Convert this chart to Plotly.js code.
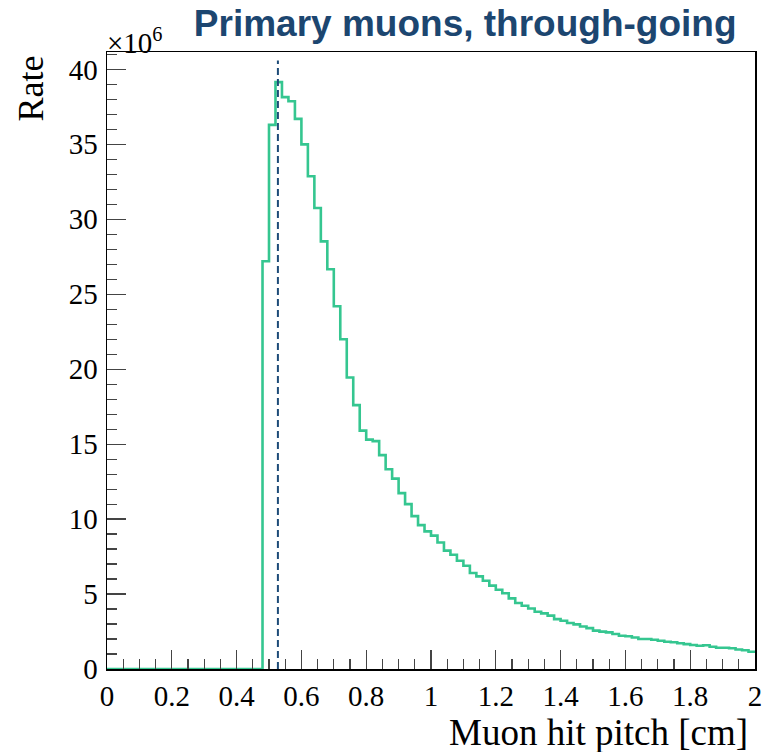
<!DOCTYPE html>
<html>
<head>
<meta charset="utf-8">
<script src="https://cdn.plot.ly/plotly-3.0.1.min.js"></script>
<style>html,body{margin:0;padding:0;background:#fff;}#chart{width:774px;height:752px;}</style>
</head>
<body>
<div id="chart"></div>
<script>
// Histogram: Muon hit pitch, 100 bins from 0 to 2 cm, values in units of 10^6
const binLow = 0;
const binWidth = 0.02;
const rateMillions = [
  0, 0, 0, 0, 0, 0, 0, 0, 0, 0,
  0, 0, 0, 0, 0, 0, 0, 0, 0, 0,
  0, 0, 0, 0, 27.2, 36.3, 39.15, 38.15, 37.87, 36.7,
  35.0, 32.87, 30.75, 28.53, 26.67, 24.2, 22.0, 19.45, 17.6, 15.9,
  15.3, 15.2, 14.27, 13.33, 12.7, 11.73, 11.0, 10.2, 9.6, 9.18,
  8.9, 8.44, 7.9, 7.62, 7.22, 6.89, 6.4, 6.18, 5.89, 5.56,
  5.29, 5.05, 4.71, 4.4, 4.22, 4.04, 3.82, 3.71, 3.56, 3.33,
  3.22, 3.07, 2.98, 2.84, 2.73, 2.56, 2.49, 2.44, 2.33, 2.22,
  2.18, 2.1, 2.0, 2.0, 1.95, 1.88, 1.82, 1.78, 1.72, 1.66,
  1.6, 1.55, 1.58, 1.48, 1.42, 1.42, 1.38, 1.3, 1.25, 1.15
];
// Reference (most probable) pitch marker
const markerX = [0.5275, 0.5275];
const markerY = [0, 40.6];

const xTickVals = [0, 0.2, 0.4, 0.6, 0.8, 1, 1.2, 1.4, 1.6, 1.8, 2];
const xTickText = ["0", "0.2", "0.4", "0.6", "0.8", "1", "1.2", "1.4", "1.6", "1.8", "2"];
const yTickVals = [0, 5, 10, 15, 20, 25, 30, 35, 40];
const yTickText = ["0", "5", "10", "15", "20", "25", "30", "35", "40"];

const titleText = "Primary muons, through-going";
const xTitle = "Muon hit pitch [cm]";
const yTitle = "Rate";
const yExponent = "×10<sup>6</sup>";

// step trace: left edges + final right edge
const edges = [];
const stepY = [];
for (let i = 0; i < rateMillions.length; i++) {
  edges.push(+(binLow + i * binWidth).toFixed(4));
  stepY.push(rateMillions[i]);
}
edges.push(+(binLow + rateMillions.length * binWidth).toFixed(4));
stepY.push(rateMillions[rateMillions.length - 1]);

const serif = "Liberation Serif, Times New Roman, serif";

const traces = [
  {
    x: edges, y: stepY, type: "scatter", mode: "lines",
    line: {shape: "hv", color: "#35c690", width: 2.6},
    hoverinfo: "skip", showlegend: false, cliponaxis: true
  },
  {
    x: markerX, y: markerY, type: "scatter", mode: "lines",
    line: {color: "#1d4b78", width: 2, dash: "7px,4px"},
    hoverinfo: "skip", showlegend: false
  }
];

const layout = {
  width: 774, height: 752,
  margin: {l: 106.5, r: 18.5, t: 52, b: 83, pad: 0},
  paper_bgcolor: "#ffffff", plot_bgcolor: "#ffffff",
  showlegend: false,
  title: {
    text: "<b>" + titleText + "</b>",
    font: {family: "Liberation Sans, Arial, sans-serif", size: 37, color: "#1c4670"},
    xref: "paper", x: 0.9715, xanchor: "right",
    yref: "container", y: 0.970, yanchor: "middle"
  },
  xaxis: {
    range: [0, 2], showgrid: false, zeroline: false,
    showline: true, linecolor: "#000", linewidth: 1.5, mirror: true,
    ticks: "inside", ticklen: 19, tickwidth: 1.2, tickcolor: "#444",
    tickvals: xTickVals, ticktext: xTickText,
    tickfont: {family: serif, size: 29, color: "#000"},
    ticklabelstandoff: 1,
    minor: {dtick: 0.05, ticks: "inside", ticklen: 10, tickwidth: 1.2, tickcolor: "#444", showgrid: false}
  },
  yaxis: {
    range: [0, 41.16], showgrid: false, zeroline: false,
    showline: true, linecolor: "#000", linewidth: 1.5, mirror: true,
    ticks: "inside", ticklen: 19, tickwidth: 1.2, tickcolor: "#444",
    tickvals: yTickVals, ticktext: yTickText,
    tickfont: {family: serif, size: 29, color: "#000"},
    ticklabelstandoff: 2,
    minor: {dtick: 1, ticks: "inside", ticklen: 10, tickwidth: 1.2, tickcolor: "#444", showgrid: false}
  },
  annotations: [
    {
      text: xTitle, xref: "paper", yref: "paper", x: 0.993, y: -0.1037,
      xanchor: "right", yanchor: "middle", showarrow: false,
      font: {family: serif, size: 37, color: "#000"}
    },
    {
      text: yTitle, xref: "paper", yref: "paper", x: -0.1165, y: 0.940,
      xanchor: "center", yanchor: "middle", textangle: -90, showarrow: false,
      font: {family: serif, size: 36, color: "#000"}
    },
    {
      text: yExponent, xref: "paper", yref: "paper", x: -0.003, y: 0.985,
      xanchor: "left", yanchor: "bottom", showarrow: false,
      font: {family: serif, size: 29, color: "#000"}
    }
  ]
};

Plotly.newPlot("chart", traces, layout, {staticPlot: true, displayModeBar: false});
</script>
</body>
</html>
